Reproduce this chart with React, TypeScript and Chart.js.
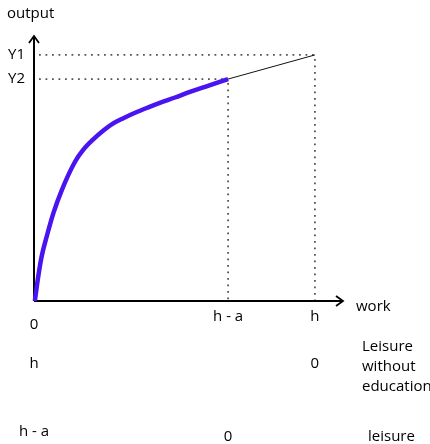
import { useEffect, useRef } from "react";
import { Chart, registerables } from "chart.js";

Chart.register(...registerables);

// curve (with education): work vs output
const curveX = [0.03, 0.15, 0.27, 0.45, 0.69, 0.99, 1.46, 1.75, 2.11, 2.47, 2.82, 3.18, 3.66, 4.07, 4.48, 5.02, 5.55, 6.09, 6.91];
const curveY = [0, 0.99, 1.8, 2.61, 3.57, 4.51, 5.66, 6.14, 6.57, 6.93, 7.22, 7.43, 7.68, 7.87, 8.05, 8.27, 8.5, 8.7, 9.02];
// straight segment (without education)
const lineX = [6.91, 10];
const lineY = [9.02, 10];

const yLevels = [10, 9.02];
const yLevelLabels = ["Y1", "Y2"];
const xLevels = [0, 6.91, 10];
const workLabels = ["0", "h - a", "h"];
const leisureNoEdu = ["h", "", "0"];
const leisureEdu = ["h - a", "0", ""];
const rowTitleNoEdu = ["Leisure", "without", "education"];
const rowTitleEdu = "leisure";
const xTitle = "work";
const yTitle = "output";

const X_MAX = 11;
const Y_MAX = 10.77;
const FONT = "15px 'Open Sans'";

const overlay = {
  id: "overlay",
  beforeDatasetsDraw(chart: any) {
    const { ctx, scales } = chart;
    const xs = scales.x;
    const ys = scales.y;
    const x0 = xs.getPixelForValue(0);
    const y0 = ys.getPixelForValue(0);
    ctx.save();
    // dotted guides
    ctx.strokeStyle = "#555";
    ctx.lineWidth = 1.8;
    ctx.setLineDash([1.8, 4.7]);
    const guides = [
      [xLevels[2], yLevels[0]],
      [xLevels[1], yLevels[1]],
    ];
    for (const [gx, gy] of guides) {
      const px = xs.getPixelForValue(gx);
      const py = ys.getPixelForValue(gy);
      ctx.beginPath();
      ctx.moveTo(x0 + 5, py);
      ctx.lineTo(px, py);
      ctx.stroke();
      ctx.beginPath();
      ctx.moveTo(px, py + 4);
      ctx.lineTo(px, y0);
      ctx.stroke();
    }
    ctx.setLineDash([]);
    // axes
    const xEnd = xs.getPixelForValue(X_MAX);
    const yEnd = ys.getPixelForValue(Y_MAX);
    ctx.strokeStyle = "#000";
    ctx.lineWidth = 2;
    ctx.beginPath();
    ctx.moveTo(x0, y0);
    ctx.lineTo(xEnd - 1, y0);
    ctx.moveTo(x0, y0);
    ctx.lineTo(x0, yEnd + 1);
    ctx.stroke();
    ctx.lineWidth = 1.8;
    ctx.beginPath();
    ctx.moveTo(xEnd - 7, y0 - 5);
    ctx.lineTo(xEnd, y0);
    ctx.lineTo(xEnd - 7, y0 + 5);
    ctx.moveTo(x0 - 5, yEnd + 7);
    ctx.lineTo(x0, yEnd);
    ctx.lineTo(x0 + 5, yEnd + 7);
    ctx.stroke();
    ctx.restore();
  },
  afterDraw(chart: any) {
    const { ctx, scales } = chart;
    const xs = scales.x;
    const ys = scales.y;
    const y0 = ys.getPixelForValue(0);
    ctx.save();
    ctx.fillStyle = "#000";
    ctx.font = FONT;
    ctx.textBaseline = "middle";
    ctx.textAlign = "left";
    ctx.fillText(yTitle, 7, 14);
    yLevels.forEach((v, i) => ctx.fillText(yLevelLabels[i], 8, ys.getPixelForValue(v)));
    ctx.fillText(xTitle, 356, y0 + 6);
    rowTitleNoEdu.forEach((t, i) => ctx.fillText(t, 362, y0 + 46 + i * 20));
    ctx.fillText(rowTitleEdu, 368, y0 + 136);
    ctx.textAlign = "center";
    const rowY = [[24, 16, 16], [63, 63, 63], [131, 136, 136]];
    xLevels.forEach((v, i) => {
      const px = xs.getPixelForValue(v);
      if (workLabels[i]) ctx.fillText(workLabels[i], px, y0 + rowY[0][i]);
      if (leisureNoEdu[i]) ctx.fillText(leisureNoEdu[i], px, y0 + rowY[1][i]);
      if (leisureEdu[i]) ctx.fillText(leisureEdu[i], px, y0 + rowY[2][i]);
    });
    ctx.restore();
  },
};

export default function App() {
  const ref = useRef<HTMLCanvasElement>(null);
  useEffect(() => {
    if (!ref.current) return;
    const pts = curveX.map((x, i) => ({ x, y: curveY[i] }));
    const chart = new Chart(ref.current, {
      type: "scatter",
      data: {
        datasets: [
          {
            data: pts,
            showLine: true,
            borderColor: "#4a14f0",
            borderWidth: 4.5,
            pointRadius: 0,
            cubicInterpolationMode: "monotone",
            clip: false,
            order: 0,
          },
          {
            data: [
              ...pts,
              ...lineX.slice(1).map((x, i) => ({ x, y: lineY[i + 1] })),
            ],
            showLine: true,
            borderColor: "#111",
            borderWidth: 1,
            pointRadius: 0,
            tension: 0,
            clip: false,
            order: 1,
          },
        ],
      },
      options: {
        animation: false,
        responsive: false,
        maintainAspectRatio: false,
        layout: { padding: { left: 34, right: 87, top: 36, bottom: 143 } },
        plugins: { legend: { display: false }, tooltip: { enabled: false } },
        scales: {
          x: { type: "linear", min: 0, max: X_MAX, display: false },
          y: { type: "linear", min: 0, max: Y_MAX, display: false },
        },
      },
      plugins: [overlay],
    });
    return () => chart.destroy();
  }, []);
  return (
    <div style={{ position: "absolute", left: 0, top: 0, width: 430, height: 444, background: "#fff" }}>
      <canvas ref={ref} width={430} height={444} style={{ width: 430, height: 444 }} />
    </div>
  );
}
